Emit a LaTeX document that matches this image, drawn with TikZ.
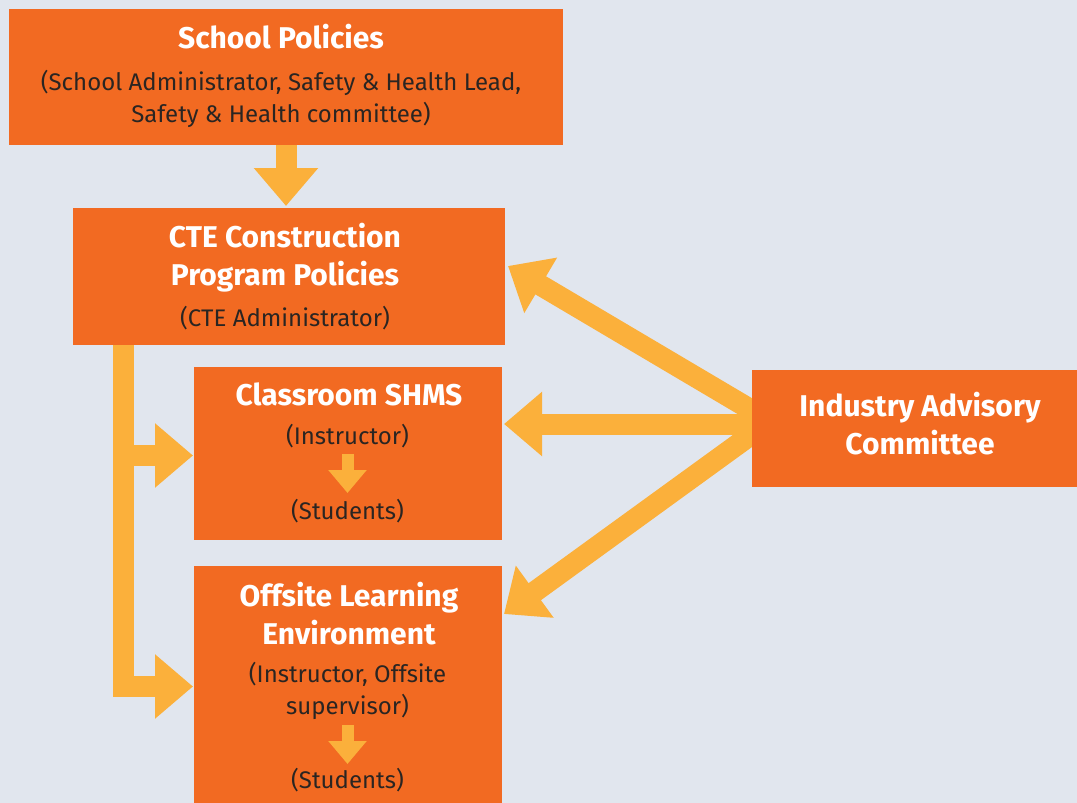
\documentclass[tikz,border=0pt]{standalone}
\usepackage{fontspec}
\setmainfont{Fira Sans}
\usetikzlibrary{arrows.meta,calc}
\definecolor{bgc}{HTML}{E1E6EE}
\definecolor{boxc}{HTML}{F26A22}
\definecolor{arrc}{HTML}{FBB03B}
\definecolor{inkc}{HTML}{2A2522}
\pgfdeclarelayer{bglayer}
\pgfdeclarelayer{arrlayer}
\pgfsetlayers{bglayer,arrlayer,main}
\begin{document}
\begin{tikzpicture}[x=1pt,y=-1pt,
 obox/.style={fill=boxc, draw=none, anchor=north west, inner sep=0pt, outer sep=0pt},
 ttl/.style={text=white, font=\fontsize{30}{38}\selectfont\bfseries, align=center, inner sep=0pt},
 sub/.style={text=inkc, font=\fontsize{24}{32}\selectfont, align=center, inner sep=0pt},
 fat/.style={draw=arrc, line width=21pt, -{Triangle[length=38pt,width=62pt]}},
 slim/.style={draw=arrc, line width=12pt, -{Triangle[length=23pt,width=37pt]}},
]
\begin{pgfonlayer}{bglayer}
\fill[bgc] (0,0) rectangle (1077,803);
\end{pgfonlayer}
\useasboundingbox (0,0) rectangle (1077,803);

% boxes
\node[obox, minimum width=554pt, minimum height=136pt] (school) at (9,9) {};
\node[obox, minimum width=432pt, minimum height=137pt] (cte) at (73,208) {};
\node[obox, minimum width=308pt, minimum height=173pt] (cls) at (194,367) {};
\node[obox, minimum width=308pt, minimum height=240pt] (off) at (194,566) {};
\node[obox, minimum width=330pt, minimum height=117pt] (iac) at (752,370) {};

% texts
\node[ttl] (school-t) at (281,37) {School Policies};
\node[sub] (school-s) at (281,99) {(School Administrator, Safety \& Health Lead,\\Safety \& Health committee)};
\node[ttl] (cte-t) at (285,258) {CTE Construction\\Program Policies};
\node[sub] (cte-s) at (285,318) {(CTE Administrator)};
\node[ttl] (cls-t) at (349,394) {Classroom SHMS};
\node[sub] (cls-i) at (347.5,436) {(Instructor)};
\node[sub] (cls-s) at (347.5,511) {(Students)};
\node[ttl] (off-t) at (349,614) {Offsite Learning\\Environment};
\node[sub] (off-i) at (347.5,691) {(Instructor, Offsite\\supervisor)};
\node[sub] (off-s) at (347.5,780) {(Students)};
\node[ttl] (iac-t) at (920,424) {Industry Advisory\\Committee};

% connectors
\draw[fat] ($(school.south west)+(277,0)$) -- ($(cte.north west)+(213,-2)$);
\draw[fat] ($(cte.south west)+(50.5,0)$) |- ($(off.north west)+(-1,120.5)$);
\coordinate (bus1) at ($(cte.south west)+(50.5,110.5)$);
\draw[fat] (bus1) -- ($(cls.north west)+(-1,88.5)$);

\begin{pgfonlayer}{arrlayer}
\coordinate (src) at ($(iac.north west)+(18,51)$);
\draw[fat] (src) -- ($(cte.north east)+(3,58)$);
\draw[fat] (src |- 0,424) -- ($(cls.north east)+(2,57)$);
\draw[fat] (src) -- ($(off.north east)+(2,48)$);
\end{pgfonlayer}

\draw[slim] ($(cls-i)+(0,18)$) -- ($(cls-s)+(0,-18)$);
\draw[slim] ($(off-i)+(0,34)$) -- ($(off-s)+(0,-16)$);
\end{tikzpicture}
\end{document}
